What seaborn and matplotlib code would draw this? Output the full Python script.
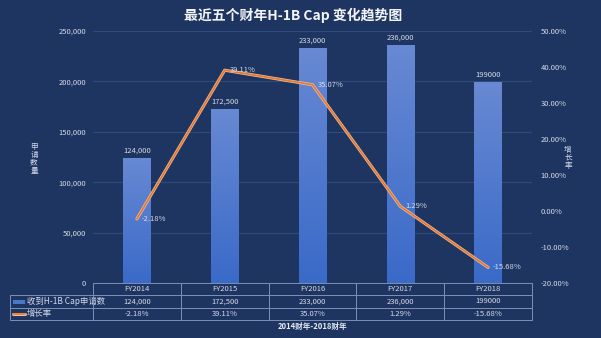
import numpy as np
import pandas as pd
import matplotlib
matplotlib.use("Agg")
import matplotlib.pyplot as plt
import matplotlib.patheffects as pe
from matplotlib.patches import Rectangle
from matplotlib.lines import Line2D
from matplotlib.table import Table
from matplotlib.colors import LinearSegmentedColormap
import seaborn as sns

categories = ["FY2014", "FY2015", "FY2016", "FY2017", "FY2018"]
applications = [124000, 172500, 233000, 236000, 199000]
app_labels = ["124,000", "172,500", "233,000", "236,000", "199000"]
growth = [-2.18, 39.11, 35.07, 1.29, -15.68]
growth_labels = ["-2.18%", "39.11%", "35.07%", "1.29%", "-15.68%"]
series_names = ["收到H-1B Cap申请数", "增长率"]
left_ticks = [0, 50000, 100000, 150000, 200000, 250000]
right_ticks = [-20, -10, 0, 10, 20, 30, 40, 50]
title = "最近五个财年H-1B Cap 变化趋势图"
xlabel = "2014财年-2018财年"

sns.set_theme(style="white")
plt.rcParams['font.family'] = ['Noto Sans CJK SC', 'DejaVu Sans']

BG = "#1f3561"
TXT = "#d3dae8"
W, H = 601, 338
fig = plt.figure(figsize=(W / 100, H / 100), dpi=100, facecolor=BG)
L, R, T, B = 93, 532, 31, 283
ax = fig.add_axes([L / W, 1 - B / H, (R - L) / W, (B - T) / H])
ax.set_facecolor(BG)

df = pd.DataFrame({"cat": categories, "val": applications})
sns.barplot(data=df, x="cat", y="val", ax=ax, width=0.31, color="#4a76cc",
            saturation=1, edgecolor="none", zorder=2)
ax.set_ylim(0, 250000)
ax.set_xlim(-0.5, 4.5)

# gradient fill
grad = np.linspace(0, 1, 256).reshape(-1, 1)
cmap = LinearSegmentedColormap.from_list("g", ["#3a6ac8", "#6889d3"])
for p in list(ax.patches):
    x0, y0 = p.get_x(), p.get_y()
    w, h = p.get_width(), p.get_height()
    im = ax.imshow(grad, extent=[x0, x0 + w, y0, y0 + h], origin="lower",
                   cmap=cmap, aspect="auto", zorder=2.1)
    im.set_clip_path(p)
ax.set_xlim(-0.5, 4.5)
ax.set_ylim(0, 250000)

for i, (v, lab) in enumerate(zip(applications, app_labels)):
    ax.annotate(lab, (i, v), xytext=(0, 2.5), textcoords="offset points",
                ha="center", va="bottom", fontsize=5.5, color=TXT, zorder=5)

ax.set_yticks(left_ticks)
ax.set_yticklabels([f"{t:,}" for t in left_ticks], fontsize=5.5, color=TXT)
ax.tick_params(axis="y", length=0, pad=5)
ax.set_xticks([])
ax.set_xlabel("")
ax.set_ylabel("")
ax.grid(axis="y", color="#2e4a7c", linewidth=0.8, zorder=0)
ax.set_axisbelow(True)
for s in ax.spines.values():
    s.set_visible(False)

ax2 = ax.twinx()
gdf = pd.DataFrame({"x": np.arange(len(categories)), "g": growth})
sns.lineplot(data=gdf, x="x", y="g", ax=ax2, color="#e8772e", linewidth=1.2,
             zorder=4, path_effects=[pe.Stroke(linewidth=2.2, foreground="#f0c19c"), pe.Normal()])
ax2.set_ylim(-20, 50)
ax2.set_xlim(-0.5, 4.5)
ax2.set_yticks(right_ticks)
ax2.set_yticklabels([f"{t:.2f}%" for t in right_ticks], fontsize=5.5, color=TXT)
ax2.tick_params(axis="y", length=0, pad=6)
ax2.set_xlabel("")
ax2.set_ylabel("")
for s in ax2.spines.values():
    s.set_visible(False)
for i, (g, lab) in enumerate(zip(growth, growth_labels)):
    ax2.annotate(lab, (i, g), xytext=(3.5, 0), textcoords="offset points",
                 ha="left", va="center", fontsize=5.5, color=TXT, zorder=6)

# data table
rl = (L - 10) / (R - L)
row_h = 12.3 / (B - T)
tbl = Table(ax, bbox=[0, -3 * row_h, 1, 3 * row_h])
for j, c in enumerate(categories):
    tbl.add_cell(0, j, width=0.2, height=row_h, text=c, loc="center")
for i, (name, vals) in enumerate(zip(series_names, [app_labels, growth_labels])):
    cell = tbl.add_cell(i + 1, -1, width=rl, height=row_h, text=name, loc="left")
    cell.PAD = 0.2
    for j, v in enumerate(vals):
        tbl.add_cell(i + 1, j, width=0.2, height=row_h, text=v, loc="center")
tbl.auto_set_font_size(False)
for (r, c), cell in tbl.get_celld().items():
    cell.set_facecolor("none")
    cell.set_edgecolor("#7c90b6")
    cell.set_linewidth(0.7)
    cell.get_text().set_color(TXT)
    cell.get_text().set_fontsize(6 if c == -1 else 5.5)
tbl.set_clip_on(False)
ax.add_table(tbl)

# legend swatches in row label cells
fig.patches.append(Rectangle((13 / W, 1 - 303.5 / H), 12 / W, 3.5 / H,
                             transform=fig.transFigure, facecolor="#4a76cc",
                             edgecolor="none", figure=fig))
ln = Line2D([13 / W, 25 / W], [1 - 313.5 / H, 1 - 313.5 / H], transform=fig.transFigure,
            color="#e8772e", linewidth=1.2,
            path_effects=[pe.Stroke(linewidth=2.2, foreground="#f0c19c"), pe.Normal()])
fig.lines.append(ln)

fig.text((L + R) / 2 / W, 1 - 326 / H, xlabel, ha="center", va="center",
         fontsize=5.5, color="#e6ebf3", fontweight="bold")
fig.text(293 / W, 1 - 15 / H, title, ha="center", va="center",
         fontsize=10, color="#f2f4f8", fontweight="bold")
fig.text(34 / W, 1 - 159 / H, "申\n请\n数\n量", ha="center", va="center",
         fontsize=5.5, color=TXT, linespacing=0.95)
fig.text(568 / W, 1 - 158 / H, "增\n长\n率", ha="center", va="center",
         fontsize=5.5, color=TXT, linespacing=0.95)

fig.savefig("out.png", dpi=100, facecolor=BG)
